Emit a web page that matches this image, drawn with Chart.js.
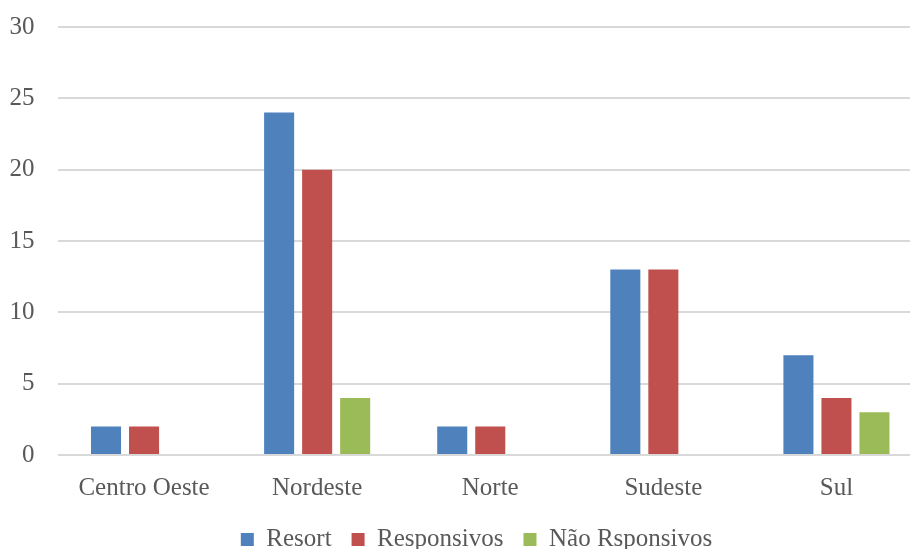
<!DOCTYPE html>
<html>
<head>
<meta charset="utf-8">
<script src="https://cdn.jsdelivr.net/npm/chart.js@4"></script>
<style>
  html, body { margin: 0; padding: 0; overflow: hidden; background: #fff; }
  #wrap { position: absolute; left: 0; top: 0; width: 923px; height: 576px; }
</style>
</head>
<body>
<div id="wrap"><canvas id="c" width="923" height="576"></canvas></div>
<script>
const categories = ["Centro Oeste", "Nordeste", "Norte", "Sudeste", "Sul"];
const resort = [2, 24, 2, 13, 7];
const responsivos = [2, 20, 2, 13, 4];
const naoResponsivos = [0, 4, 0, 0, 3];
const seriesNames = ["Resort", "Responsivos", "Não Rsponsivos"];
const yTicks = [0, 5, 10, 15, 20, 25, 30];

const FONT = "'Liberation Serif', 'Times New Roman', serif";
const TXT = "#595959";

const ds = (label, data, color) => ({
  label, data, backgroundColor: color, borderWidth: 0,
  categoryPercentage: 0.659, barPercentage: 0.79
});

const legendShift = {
  id: "legendShift",
  afterLayout(chart) {
    const L = chart.legend;
    if (!L) return;
    L.left += 15; L.right += 15;
    L.top -= 14; L.bottom -= 14;
  }
};

new Chart(document.getElementById("c"), {
  type: "bar",
  data: {
    labels: categories,
    datasets: [
      ds(seriesNames[0], resort, "#4f81bd"),
      ds(seriesNames[1], responsivos, "#c0504d"),
      ds(seriesNames[2], naoResponsivos, "#9bbb59")
    ]
  },
  plugins: [legendShift],
  options: {
    responsive: false,
    animation: false,
    layout: { padding: { top: 27, left: 0, right: 0, bottom: 0 } },
    plugins: {
      tooltip: { enabled: false },
      legend: {
        position: "bottom",
        labels: {
          boxWidth: 13, boxHeight: 13, padding: 20,
          color: TXT, font: { family: FONT, size: 25 }
        }
      }
    },
    scales: {
      x: {
        grid: { display: false, drawTicks: false },
        border: { display: false },
        ticks: { color: TXT, font: { family: FONT, size: 25 }, padding: 18, maxRotation: 0 }
      },
      y: {
        min: 0, max: 30,
        afterBuildTicks: (s) => { s.ticks = yTicks.map(v => ({ value: v })); },
        afterFit: (s) => { s.width = 57.5; s.paddingTop = 0; s.paddingBottom = 0; },
        grid: { color: "#d9d9d9", lineWidth: 2, drawTicks: false },
        border: { display: false },
        ticks: { color: TXT, font: { family: FONT, size: 25 }, padding: 23 }
      }
    }
  }
});
</script>
</body>
</html>
